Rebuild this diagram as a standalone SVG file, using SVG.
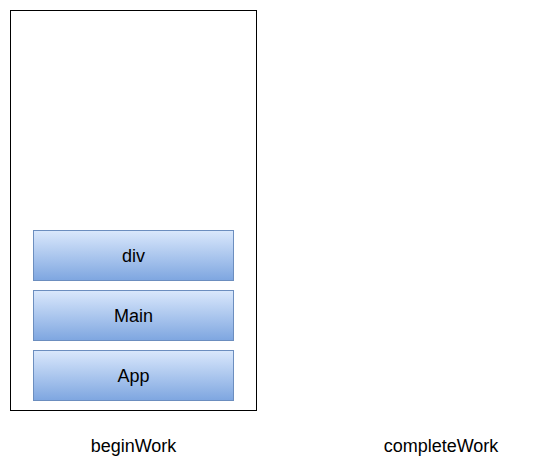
<svg xmlns="http://www.w3.org/2000/svg" width="552" height="466" viewBox="0 0 552 466">
<defs>
<linearGradient id="g" x1="0" y1="0" x2="0" y2="1">
<stop offset="0" stop-color="#dae8fc"/>
<stop offset="1" stop-color="#7ea6e0"/>
</linearGradient>
</defs>
<style>
.box{fill:url(#g);stroke:#6c8ebf;stroke-width:1}
.t{font-family:"Liberation Sans",Arial,sans-serif;font-size:18px;fill:#000;text-anchor:middle}
</style>
<rect width="552" height="466" fill="#fff"/>
<g id="stack"><rect x="10.5" y="10.5" width="246" height="400" fill="#fff" stroke="#000"/></g>
<g id="div"><rect class="box" x="33.5" y="230.5" width="200" height="50"/><text class="t" x="133.5" y="262">div</text></g>
<g id="main"><rect class="box" x="33.5" y="290.5" width="200" height="50"/><text class="t" x="133.5" y="322">Main</text></g>
<g id="app"><rect class="box" x="33.5" y="350.5" width="200" height="50"/><text class="t" x="133.5" y="382">App</text></g>
<g id="beginWork"><text class="t" x="133.5" y="452">beginWork</text></g>
<g id="completeWork"><text class="t" x="441" y="452">completeWork</text></g>
<g id="connectors"></g>
</svg>
